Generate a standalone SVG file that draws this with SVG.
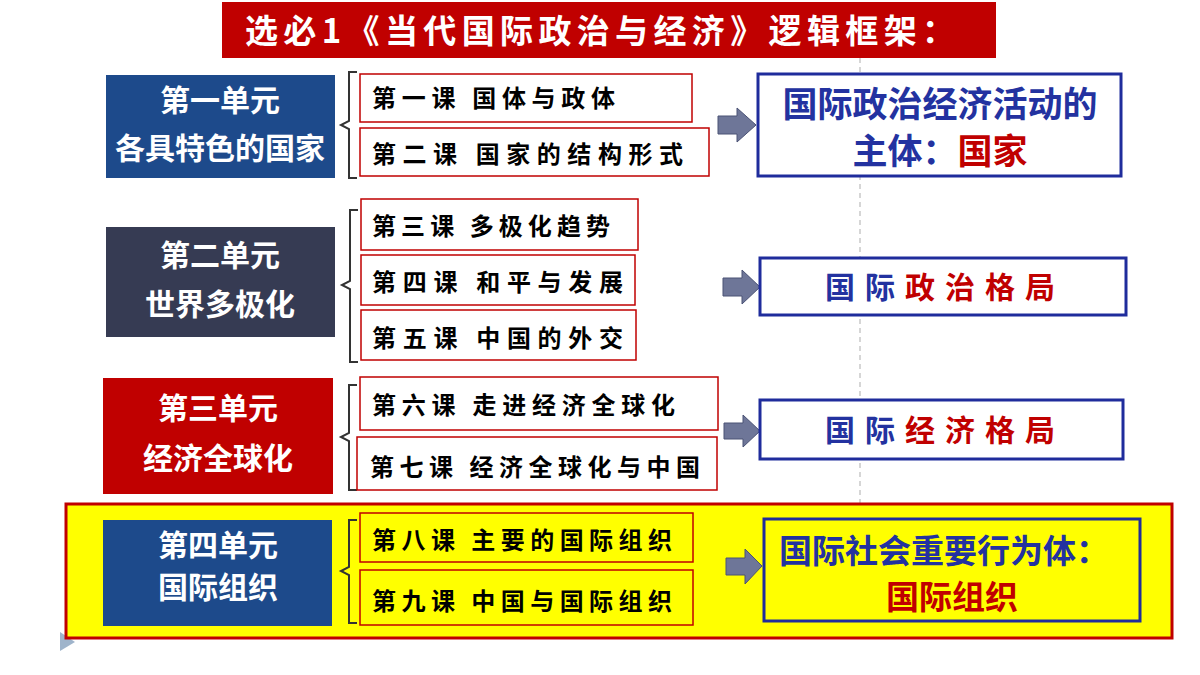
<svg xmlns="http://www.w3.org/2000/svg" width="1200" height="675" viewBox="0 0 1200 675">
<style>
.cjk{font-family:"Noto Sans CJK SC","Noto Sans CJK JP",sans-serif}
.unit text{fill:#fff;font-size:30px;font-weight:700;text-anchor:middle}
.lesson rect{fill:#fff;stroke:#C00000;stroke-width:1.5}
.lesson text{fill:#000;font-size:24px;font-weight:700}
.res{fill:#fff;stroke:#1F2C9C;stroke-width:3}
.blue{fill:#2332A0}
.red{fill:#C00000}
.br{fill:none;stroke:#333;stroke-width:2}
.arr{fill:#6E7698;stroke:#4A5275;stroke-width:1}
</style>
<rect width="1200" height="675" fill="#fff"/>
<line x1="860" y1="58" x2="860" y2="505" stroke="#bbb" stroke-width="1.2" stroke-dasharray="5,4"/>
<polygon points="60,632 75,642 60,651" fill="#9FB4CB"/>
<g id="title">
<rect x="222" y="2" width="774" height="56" fill="#C00000"/>
<text class="cjk" x="245" y="43" font-size="33" font-weight="700" fill="#fff" textLength="710">选必1《当代国际政治与经济》逻辑框架：</text>
</g>
<rect id="panel4" x="66" y="504" width="1106" height="134" fill="#FFFF00" stroke="#C00000" stroke-width="3"/>
<g id="unit1" class="unit cjk">
<rect x="106" y="75" width="229" height="103" fill="#1D4A8B"/>
<text x="220" y="111">第一单元</text><text x="220" y="159">各具特色的国家</text>
</g>
<g id="unit2" class="unit cjk">
<rect x="106" y="227" width="229" height="110" fill="#363B53"/>
<text x="220" y="266">第二单元</text><text x="220" y="315">世界多极化</text>
</g>
<g id="unit3" class="unit cjk">
<rect x="103" y="378" width="230" height="116" fill="#C00000"/>
<text x="218" y="419">第三单元</text><text x="218" y="469">经济全球化</text>
</g>
<g id="unit4" class="unit cjk">
<rect x="103" y="520" width="229" height="106" fill="#1D4A8B"/>
<text x="218" y="556">第四单元</text><text x="218" y="598">国际组织</text>
</g>
<g id="connectors">
<path class="br" d="M357,72 H349 V121 L341,125 L349,129 V178 H357"/>
<path class="br" d="M358,210 H350 V281 L342,285 L350,289 V362 H358"/>
<path class="br" d="M357,385 H349 V433 L341,437 L349,441 V490 H357"/>
<path class="br" d="M357,520 H349 V567 L341,571 L349,575 V623 H357"/>
<polygon class="arr" points="718,116 737,116 737,108 756,125 737,142 737,134 718,134"/>
<polygon class="arr" points="723,278 742,278 742,270 760,287 742,304 742,296 723,296"/>
<polygon class="arr" points="724,423 743,423 743,415 760,431 743,447 743,439 724,439"/>
<polygon class="arr" points="726,558 745,558 745,549 762,566 745,584 745,575 726,575"/>
</g>
<g id="l1" class="lesson cjk"><rect x="360" y="74" width="332" height="48"/><text x="372" y="107" textLength="243">第一课 国体与政体</text></g>
<g id="l2" class="lesson cjk"><rect x="360" y="128" width="349" height="48"/><text x="372" y="163" textLength="311">第二课  国家的结构形式</text></g>
<g id="l3" class="lesson cjk"><rect x="361" y="199" width="277" height="51"/><text x="372" y="235" textLength="238">第三课 多极化趋势</text></g>
<g id="l4" class="lesson cjk"><rect x="361" y="255" width="274" height="50"/><text x="372" y="291" textLength="251">第四课  和平与发展</text></g>
<g id="l5" class="lesson cjk"><rect x="361" y="310" width="275" height="50"/><text x="372" y="347" textLength="251">第五课  中国的外交</text></g>
<g id="l6" class="lesson cjk"><rect x="360" y="377" width="358" height="53"/><text x="372" y="414" textLength="303">第六课 走进经济全球化</text></g>
<g id="l7" class="lesson cjk"><rect x="357" y="437" width="360" height="53"/><text x="370" y="476" textLength="330">第七课 经济全球化与中国</text></g>
<g id="l8" class="lesson cjk"><rect x="360" y="513" width="333" height="49" style="fill:#FFFF00"/><text x="372" y="549" textLength="300">第八课 主要的国际组织</text></g>
<g id="l9" class="lesson cjk"><rect x="360" y="570" width="333" height="55" style="fill:#FFFF00"/><text x="372" y="610" textLength="300">第九课 中国与国际组织</text></g>
<g id="r1" class="cjk">
<rect class="res" x="758" y="74" width="363" height="102"/>
<text x="940" y="117" font-size="35" font-weight="700" text-anchor="middle" class="blue">国际政治经济活动的</text>
<text x="940" y="164" font-size="35" font-weight="700" text-anchor="middle"><tspan class="blue">主体：</tspan><tspan class="red">国家</tspan></text>
</g>
<g id="r2" class="cjk">
<rect class="res" x="760" y="258" width="366" height="57"/>
<text x="945" y="298" font-size="30" font-weight="700" text-anchor="middle" letter-spacing="10"><tspan class="blue">国际</tspan><tspan class="red">政治格局</tspan></text>
</g>
<g id="r3" class="cjk">
<rect class="res" x="760" y="400" width="363" height="59"/>
<text x="945" y="441" font-size="30" font-weight="700" text-anchor="middle" letter-spacing="10"><tspan class="blue">国际</tspan><tspan class="red">经济格局</tspan></text>
</g>
<g id="r4" class="cjk">
<rect class="res" x="764" y="519" width="376" height="102" style="fill:#FFFF00"/>
<text x="944" y="563" font-size="33" font-weight="700" text-anchor="middle" class="blue">国际社会重要行为体：</text>
<text x="952" y="609" font-size="33" font-weight="700" text-anchor="middle" class="red">国际组织</text>
</g>
</svg>
